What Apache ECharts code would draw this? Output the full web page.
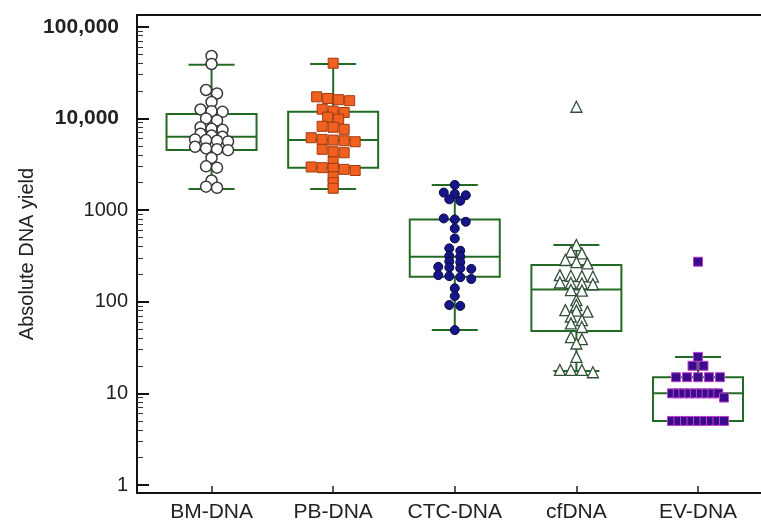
<!DOCTYPE html>
<html>
<head>
<meta charset="utf-8">
<script src="https://cdn.jsdelivr.net/npm/echarts@6/dist/echarts.min.js"></script>
<style>
  html, body { margin: 0; padding: 0; background: #fff; }
  #chart { width: 761px; height: 522px; }
</style>
</head>
<body>
<div id="chart"></div>
<script>
var categories = ['BM-DNA', 'PB-DNA', 'CTC-DNA', 'cfDNA', 'EV-DNA'];
var yTicks = [1, 10, 100, 1000, 10000, 100000];
var yTickLabels = ['1', '10', '100', '1000', '10,000', '100,000'];

// box stats per group: lower whisker, Q1, median, Q3, upper whisker
var boxLow  = [1700, 1700, 49, 17.5, 5];
var boxQ1   = [4520, 2900, 187, 48, 5];
var boxMed  = [6300, 5800, 310, 136, 10];
var boxQ3   = [11200, 11800, 790, 251, 15];
var boxHigh = [38500, 39200, 1880, 415, 25];

// individual yields
var bmDNA  = [47900, 39200, 20400, 18700, 15100, 12500, 12000, 11800, 10000, 9500, 8000, 7700, 7500,
              6800, 6500, 6300, 5900, 5800, 5700, 5600, 4900, 4700, 4600, 4500, 3700, 3000, 2900, 2100, 1800, 1750];
var pbDNA  = [40000, 17200, 16500, 16000, 15600, 12600, 12000, 11600, 10300, 9800, 8200, 8000, 7600,
              6150, 5900, 5800, 5700, 5560, 4600, 4330, 4220, 3350, 2950, 2900, 2850, 2780, 2700, 2310, 1990, 1730];
var ctcDNA = [1880, 1550, 1500, 1450, 1310, 1260, 810, 790, 745, 630, 490, 382, 360, 315, 310, 275, 270,
              240, 236, 232, 228, 195, 190, 185, 177, 140, 115, 92, 90, 49];
var cfDNA  = [13400, 415, 351, 337, 285, 270, 262, 195, 192, 190, 188, 162, 160, 158, 155, 134, 132, 104, 92,
              81, 80, 78, 69, 63, 58, 53, 41, 39, 35, 25, 18, 18, 18, 17];
var evDNA  = [273, 25, 20, 20, 15, 15, 15, 15, 15, 10, 10, 10, 10, 10, 10, 10, 10, 10, 9,
              5, 5, 5, 5, 5, 5, 5, 5, 5];

var groups = [bmDNA, pbDNA, ctcDNA, cfDNA, evDNA];
var boxGreen = '#236b23';

var minorTicks = [];
for (var d = 0; d < 5; d++) {
    for (var k = 2; k < 10; k++) {
        minorTicks.push(Math.log10(k * Math.pow(10, d)));
    }
}

var chart = echarts.init(document.getElementById('chart'));

function renderBox(params, api) {
    var x = api.value(0);
    var low = api.coord([x, api.value(1)]);
    var q1 = api.coord([x, api.value(2)]);
    var med = api.coord([x, api.value(3)]);
    var q3 = api.coord([x, api.value(4)]);
    var high = api.coord([x, api.value(5)]);
    var cx = low[0];
    var hw = 45, cw = 23;
    var st = { stroke: boxGreen, lineWidth: 2, fill: null };
    return {
        type: 'group',
        children: [
            { type: 'line', shape: { x1: cx, y1: q3[1], x2: cx, y2: high[1] }, style: st },
            { type: 'line', shape: { x1: cx, y1: q1[1], x2: cx, y2: low[1] }, style: st },
            { type: 'line', shape: { x1: cx - cw, y1: high[1], x2: cx + cw, y2: high[1] }, style: st },
            { type: 'line', shape: { x1: cx - cw, y1: low[1], x2: cx + cw, y2: low[1] }, style: st },
            { type: 'rect', shape: { x: cx - hw, y: q3[1], width: hw * 2, height: q1[1] - q3[1] }, style: st },
            { type: 'line', shape: { x1: cx - hw, y1: med[1], x2: cx + hw, y2: med[1] }, style: st }
        ]
    };
}

var boxData = categories.map(function (c, i) {
    return [i + 1, Math.log10(boxLow[i]), Math.log10(boxQ1[i]), Math.log10(boxMed[i]),
            Math.log10(boxQ3[i]), Math.log10(boxHigh[i])];
});

var option = {
    animation: false,
    backgroundColor: '#fff',
    grid: { left: 137, right: 0, top: 15, bottom: 29, outerBoundsMode: 'none' },
    xAxis: [
        {
            type: 'value',
            min: 0.387,
            max: 5.518,
            axisLine: { show: true, onZero: false, lineStyle: { color: '#111', width: 2 } },
            axisTick: { show: true, inside: true, length: 7, customValues: [1, 2, 3, 4, 5],
                        lineStyle: { color: '#222', width: 1.5 } },
            axisLabel: {
                customValues: [1, 2, 3, 4, 5],
                margin: 9,
                fontSize: 21,
                fontFamily: 'Liberation Sans',
                color: '#222',
                formatter: function (v) { return categories[Math.round(v) - 1]; }
            },
            splitLine: { show: false }
        },
        {
            type: 'value',
            position: 'top',
            min: 0.387,
            max: 5.518,
            axisLine: { show: true, onZero: false, lineStyle: { color: '#111', width: 2 } },
            axisTick: { show: false },
            axisLabel: { show: false },
            splitLine: { show: false }
        }
    ],
    yAxis: [
        {
            type: 'value',
            min: -0.087,
            max: 5.128,
            name: 'Absolute DNA yield',
            nameLocation: 'middle',
            nameGap: 100,
            nameMoveOverlap: false,
            nameTextStyle: { fontSize: 20, fontFamily: 'Liberation Sans', color: '#222' },
            axisLine: { show: true, onZero: false, lineStyle: { color: '#111', width: 2 } },
            axisTick: { show: true, inside: true, length: 12, customValues: [0, 1, 2, 3, 4, 5],
                        lineStyle: { color: '#111', width: 2 } },
            axisLabel: {
                customValues: [0, 1, 2, 3, 4, 5],
                margin: 9,
                fontSize: 20,
                fontFamily: 'Liberation Sans',
                color: '#222',
                formatter: function (v) {
                    var i = Math.round(v);
                    if (yTicks[i] >= 10000) return '{big|' + yTickLabels[i] + '}';
                    return yTickLabels[i];
                },
                rich: {
                    big: { fontSize: 21, fontWeight: 'bold', fontFamily: 'Liberation Sans',
                           color: '#222', padding: [0, 9, 0, 0] }
                }
            },
            splitLine: { show: false }
        },
        {
            type: 'value',
            min: -0.087,
            max: 5.128,
            position: 'left',
            axisLine: { show: false },
            axisTick: { show: true, inside: true, length: 6, customValues: minorTicks,
                        lineStyle: { color: '#333', width: 1 } },
            axisLabel: { show: false },
            splitLine: { show: false }
        }
    ],
    series: [
        {
            type: 'custom',
            renderItem: renderBox,
            data: boxData,
            z: 1
        }
    ]
};

chart.setOption(option);

// dot plot: points with similar yield share a row, centred on the category
function swarm(values, cat, spacing, maxSpan) {
    var sorted = values.slice().sort(function (a, b) { return b - a; });
    var rows = [], row = null, rowY = 0;
    sorted.forEach(function (v) {
        var py = chart.convertToPixel({ yAxisIndex: 0 }, Math.log10(v));
        if (!row || py - rowY > 4.5) { row = []; rows.push(row); rowY = py; }
        row.push(v);
    });
    var cx = chart.convertToPixel({ xAxisIndex: 0 }, cat);
    var pts = [];
    rows.forEach(function (r) {
        var s = r.length > 1 ? Math.min(spacing, maxSpan / (r.length - 1)) : 0;
        r.forEach(function (v, i) {
            var px = cx + (i - (r.length - 1) / 2) * s;
            pts.push([chart.convertFromPixel({ xAxisIndex: 0 }, px), Math.log10(v)]);
        });
    });
    return pts;
}

var markerStyles = [
    { symbol: 'circle', symbolSize: 11, itemStyle: { color: '#fff', borderColor: '#3a3a3a', borderWidth: 1.5 } },
    { symbol: 'rect', symbolSize: 10, itemStyle: { color: '#f2601f', borderColor: '#a03a10', borderWidth: 1 } },
    { symbol: 'circle', symbolSize: 9, itemStyle: { color: '#16168a', borderColor: '#0a0a40', borderWidth: 1 } },
    { symbol: 'triangle', symbolSize: 11, itemStyle: { color: '#fff', borderColor: '#34503a', borderWidth: 1.3 } },
    { symbol: 'rect', symbolSize: 9, itemStyle: { color: '#3a0c8c', borderColor: '#c040d0', borderWidth: 1 } }
];

var scatterSeries = groups.map(function (vals, i) {
    var m = markerStyles[i];
    m.itemStyle.opacity = 1;
    return {
        type: 'scatter',
        name: categories[i],
        data: swarm(vals, i + 1, 11, 52),
        symbol: m.symbol,
        symbolSize: m.symbolSize,
        itemStyle: m.itemStyle,
        z: 3
    };
});

chart.setOption({ series: option.series.concat(scatterSeries) });
</script>
</body>
</html>
